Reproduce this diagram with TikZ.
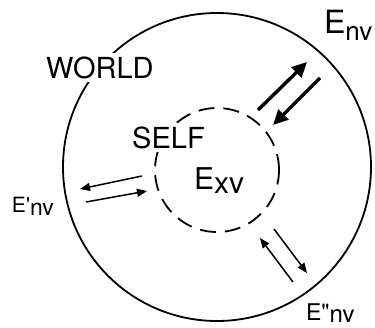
\documentclass[tikz,border=0pt]{standalone}
\usepackage{fontspec}
\setmainfont{TeX Gyre Heros}
\usetikzlibrary{arrows.meta}
\tikzset{
  lbl/.style={anchor=base west, inner sep=0pt, outer sep=0pt},
  knock/.style={fill=white, inner sep=3pt, anchor=base west},
  thickarrow/.style={line width=3.4pt, -{Triangle[length=15pt,width=14pt]}},
  thinarrow/.style={line width=1.5pt, -{Triangle[length=10pt,width=8pt]}},
}
\newcommand{\fs}[1]{\fontsize{#1}{#1}\selectfont}
\begin{document}
\begin{tikzpicture}[x=1pt,y=-1pt]
\useasboundingbox (0,0) rectangle (375,327);
\node[circle, draw, line width=1.8pt, minimum size=308pt, inner sep=0pt] (world) at (217,167) {};
\node[circle, draw, line width=1.8pt, dash pattern=on 16pt off 9pt, minimum size=124pt, inner sep=0pt] (self) at (217,170) {};
% labels
\node[knock] (worldlbl) at (43,78) {\fs{29}WORLD};
\node[knock] (selflbl) at (129,148) {\fs{29}SELF};
\node[lbl] (exv) at (194,189) {\fs{30}E\raisebox{-4pt}{\fs{30}xv}};
\node[lbl] (env) at (324,33) {\fs{32}E\raisebox{-7pt}{\fs{26}nv}};
\node[lbl] (env1) at (12,212) {\fs{21}E\textquotesingle\raisebox{-3pt}{\fs{23}nv}};
\node[lbl] (env2) at (306,320) {\fs{23}E\textquotedbl\raisebox{-2pt}{\fs{24}nv}};
% arrows
\coordinate (a1s) at (258,110); \coordinate (a1e) at (307,62);
\coordinate (a2s) at (320,78);  \coordinate (a2e) at (273,125);
\coordinate (b1s) at (142,176); \coordinate (b1e) at (80,189);
\coordinate (b2s) at (86,202);  \coordinate (b2e) at (147,191);
\coordinate (c1s) at (293,282); \coordinate (c1e) at (260,238);
\coordinate (c2s) at (274,229); \coordinate (c2e) at (307,273);
\draw[thickarrow] (a1s) -- (a1e);
\draw[thickarrow] (a2s) -- (a2e);
\draw[thinarrow] (b1s) -- (b1e);
\draw[thinarrow] (b2s) -- (b2e);
\draw[thinarrow] (c1s) -- (c1e);
\draw[thinarrow] (c2s) -- (c2e);
\end{tikzpicture}
\end{document}
